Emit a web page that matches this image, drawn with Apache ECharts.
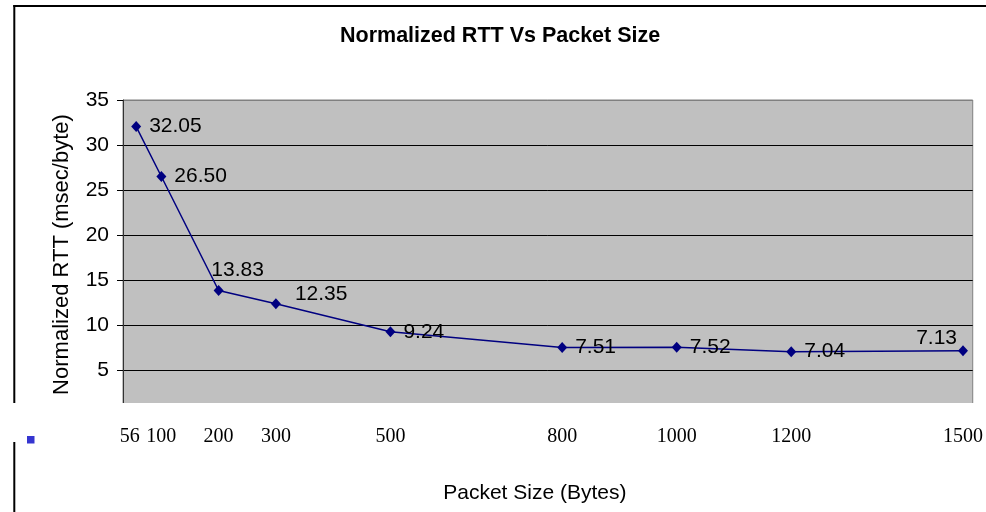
<!DOCTYPE html>
<html>
<head>
<meta charset="utf-8">
<script src="https://cdn.jsdelivr.net/npm/echarts@6/dist/echarts.min.js"></script>
<style>
html,body{margin:0;padding:0;background:#fff;}
#chart{width:986px;height:512px;}
</style>
</head>
<body>
<div id="chart"></div>
<script>
// ---- data ----
var packetSizes = [56, 100, 200, 300, 500, 800, 1000, 1200, 1500];
var normalizedRtt = [32.05, 26.50, 13.83, 12.35, 9.24, 7.51, 7.52, 7.04, 7.13];
var yTicks = [5, 10, 15, 20, 25, 30, 35];
var titleText = 'Normalized RTT Vs Packet Size';
var xName = 'Packet Size (Bytes)';
var yName = 'Normalized RTT (msec/byte)';

// per-point label placement (style only)
var labelPlacement = [
  {position: 'right', distance: 8, offset: [0, 0]},
  {position: 'right', distance: 8, offset: [0, 0]},
  {position: 'top', distance: 5, offset: [19, 1]},
  {position: 'right', distance: 8, offset: [6, -10]},
  {position: 'right', distance: 8, offset: [0, 0]},
  {position: 'right', distance: 8, offset: [0, 0]},
  {position: 'right', distance: 8, offset: [0, 0]},
  {position: 'right', distance: 8, offset: [0, 0]},
  {position: 'left', distance: 1, offset: [0, -13]}
];

var seriesData = packetSizes.map(function (x, i) {
  return {
    value: [x, normalizedRtt[i]],
    label: labelPlacement[i]
  };
});

var FONT = "'Liberation Sans', Arial, sans-serif";
var chart = echarts.init(document.getElementById('chart'), null, {renderer: 'canvas'});

var option = {
  backgroundColor: '#ffffff',
  animation: false,
  title: {
    text: titleText,
    left: 340,
    top: 25,
    padding: 0,
    textStyle: {fontFamily: FONT, fontSize: 21.5, fontWeight: 'bold', color: '#000'}
  },
  grid: {
    left: 123,
    right: 13,
    top: 100,
    height: 315,
    show: true,
    backgroundColor: '#C0C0C0',
    borderColor: '#808080',
    borderWidth: 1
  },
  xAxis: {
    type: 'value',
    min: 33,
    max: 1517,
    z: 100,
    name: xName,
    nameLocation: 'middle',
    nameGap: 68,
    nameTextStyle: {fontFamily: FONT, fontSize: 21, color: '#000', padding: [0, 26, 0, 0]},
    axisLine: {show: false},
    axisTick: {show: false},
    splitLine: {show: false},
    axisLabel: {
      customValues: packetSizes,
      margin: 12,
      fontFamily: "'Liberation Serif', 'Times New Roman', serif",
      fontSize: 20,
      color: '#000',
      formatter: function (v) {
        return v === packetSizes[0] ? '{a|' + v + '}' : String(v);
      },
      rich: {
        a: {
          fontFamily: "'Liberation Serif', 'Times New Roman', serif",
          fontSize: 20,
          color: '#000',
          padding: [0, 13, 0, 0]
        }
      }
    }
  },
  yAxis: {
    type: 'value',
    min: 0,
    max: 35,
    interval: 5,
    name: yName,
    nameLocation: 'middle',
    nameRotate: 90,
    nameGap: 50,
    nameTextStyle: {fontFamily: FONT, fontSize: 22, color: '#000', padding: [0, 0, 0, 6]},
    axisLine: {show: true, lineStyle: {color: '#333', width: 1}},
    axisTick: {show: true, length: 6, lineStyle: {color: '#000'}},
    axisLabel: {
      margin: 14,
      fontFamily: FONT,
      fontSize: 21,
      color: '#000',
      formatter: function (v) { return yTicks.indexOf(v) >= 0 ? String(v) : ''; }
    },
    splitLine: {
      show: true,
      lineStyle: {color: ['#000', '#000', '#000', '#000', '#000', '#000', '#000', '#808080'], width: 1}
    }
  },
  series: [{
    type: 'line',
    data: seriesData,
    symbol: 'diamond',
    symbolSize: [10, 11],
    lineStyle: {color: '#000080', width: 1.5},
    itemStyle: {color: '#000080'},
    label: {
      show: true,
      fontFamily: FONT,
      fontSize: 21,
      color: '#000',
      formatter: function (p) { return p.value[1].toFixed(2); }
    }
  }],
  graphic: [
    {type: 'line', z: 10, shape: {x1: 14.3, y1: 5, x2: 14.3, y2: 512}, style: {stroke: '#000', lineWidth: 2}},
    {type: 'line', z: 10, shape: {x1: 13.3, y1: 6, x2: 986, y2: 6}, style: {stroke: '#000', lineWidth: 2}},
    {type: 'rect', z: 50, shape: {x: 0, y: 403, width: 986, height: 39}, style: {fill: '#ffffff'}},
    {type: 'rect', z: 60, shape: {x: 27, y: 436, width: 7.5, height: 7.5}, style: {fill: '#3535D0'}}
  ]
};

chart.setOption(option);
</script>
</body>
</html>
